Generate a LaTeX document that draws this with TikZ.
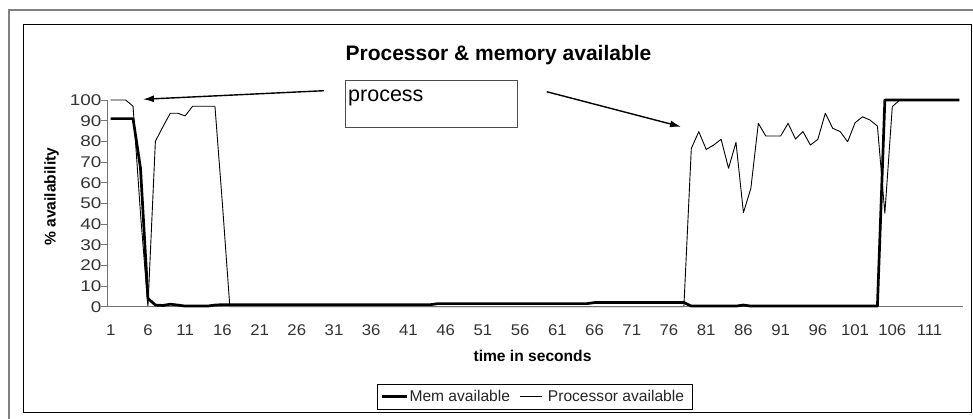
\documentclass[tikz,border=0pt]{standalone}
\usepackage{fontspec}
\usepackage{graphicx}
\setmainfont{Liberation Sans}
\usetikzlibrary{arrows.meta}
\begin{document}
\begin{tikzpicture}[x=1pt,y=-1pt,
  axisline/.style={draw=black!55, line width=1pt},
  ticklab/.style={inner sep=0pt, text=black!80, font=\fontsize{15.5pt}{18pt}\selectfont},
  legtext/.style={inner sep=0pt, text=black!85, font=\fontsize{15.6pt}{18pt}\selectfont},
  titletext/.style={inner sep=0pt, font=\fontsize{21pt}{24pt}\selectfont\bfseries},
  axistitle/.style={inner sep=0pt, font=\fontsize{15.6pt}{18pt}\selectfont\bfseries},
  memline/.style={draw=black, line width=2.7pt, line join=round},
  procline/.style={draw=black, line width=0.9pt, line join=round},
  callout/.style={draw=black, line width=1.4pt, -{Latex[length=11pt,width=7pt]}}
]
\useasboundingbox (0,0) rectangle (973,418);
\fill[white] (0,0) rectangle (973,418);
% frames
\draw[black!50, line width=1.3pt] (9,430) -- (9,10) -- (990,10);
\draw[black, line width=1pt] (23,24) rectangle (971.5,412.7);
% title
\node[titletext, anchor=base] (title) at (498.5,60) {Processor \& memory available};
% processor series (drawn under axis)
\begin{scope}[shift={(103.28,306.7)}, x=7.4435pt, y=2.067pt]
\draw[procline] plot coordinates {(1,100) (2,100) (3,100) (4,97) (5,45) (6,0) (7,80) (8,87) (9,93.6) (10,93.6) (11,92.3) (12,97) (13,97) (14,97) (15,97) (16,50) (17,0) (78,0) (79,76.6) (80,84.7) (81,76.1) (82,78.2) (83,81) (84,67) (85,79.5) (86,45.5) (87,57.3) (88,88.7) (89,82.6) (90,82.6) (91,82.6) (92,88.7) (93,81.1) (94,84.7) (95,78.2) (96,81) (97,93.6) (98,86.3) (99,84.7) (100,79.8) (101,89) (102,91.9) (103,90.3) (104,87.4) (105,45.2) (106,96.8) (107,100) (115,100)};
\end{scope}
% axes
\draw[axisline] (107,100) -- (107,306.7) -- (963,306.7);
\foreach \v in {0,10,...,100} {
  \draw[axisline] (101,{306.7-2.067*\v}) -- (107,{306.7-2.067*\v});
  \node[ticklab, anchor=east] (yl\v) at (101.5,{306.7-2.067*\v}) {\scalebox{1.22}[1]{\v}};
}
\foreach \k in {1,6,...,111} {
  \node[ticklab, anchor=base] (xl\k) at ({110.7+7.4435*(\k-1)},335.8) {\scalebox{1.08}[1]{\k}};
}
% memory series
\begin{scope}[shift={(103.28,306.7)}, x=7.4435pt, y=2.067pt]
\draw[memline] plot coordinates {(1,91) (2,91) (3,91) (4,91) (5,67) (6,4) (7,0.8) (8,0.6) (9,1.2) (10,0.8) (11,0.3) (14,0.3) (15,0.8) (16,1) (44,1) (45,1.5) (65,1.5) (66,2) (78,2) (79,0.3) (85,0.3) (86,0.8) (87,0.3) (104,0.3) (105,100) (115,100)};
\end{scope}
% axis titles
\node[axistitle, rotate=90] (ylab) at (51.5,196.7) {\% availability};
\node[axistitle, anchor=base] (xlab) at (532.5,361) {time in seconds};
% process callout
\node[draw=black!70, line width=0.9pt, anchor=north west, minimum width=171.7pt, minimum height=47.3pt, inner sep=0pt] (procbox) at (345,80) {};
\node[anchor=base west, inner sep=0pt, font=\fontsize{21.5pt}{24pt}\selectfont] (proctext) at (348,101.7) {process};
\coordinate (lt) at (324,90.7);
\coordinate (lh) at (143,99.3);
\coordinate (rt) at (546.7,91.7);
\coordinate (rh) at (681,126.7);
\draw[callout] (lt) -- (lh);
\draw[callout] (rt) -- (rh);
% legend
\node[draw=black, line width=1pt, anchor=north west, minimum width=315pt, minimum height=25.3pt, inner sep=0pt] (legend) at (377,384) {};
\draw[black, line width=2.7pt] (381.7,396.7) -- (407.3,396.7);
\node[legtext, anchor=base west] (legmem) at (409.3,401.7) {Mem available};
\draw[black, line width=0.9pt] (520,396.7) -- (541.7,396.7);
\node[legtext, anchor=base west] (legproc) at (547.7,401.7) {Processor available};
\end{tikzpicture}
\end{document}
